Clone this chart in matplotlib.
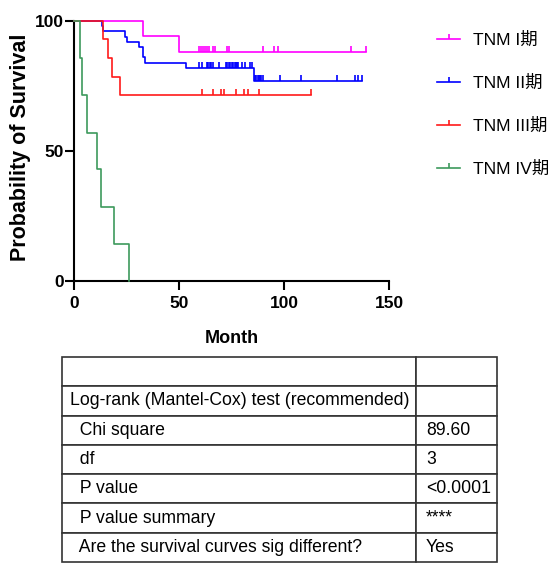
import matplotlib
matplotlib.use("Agg")
import matplotlib.pyplot as plt
import numpy as np
from matplotlib.path import Path
from matplotlib.lines import Line2D

plt.rcParams['font.family'] = ['Liberation Sans', 'Noto Sans CJK SC', 'DejaVu Sans']

# survival data: event times, survival after each event, censored times
groups = ['TNM I期', 'TNM II期', 'TNM III期', 'TNM IV期']
colors = ['#FF00FF', '#0000FF', '#FF1A1A', '#3D9A5C']

stage1_events = [33, 50]
stage1_surv = [94.1, 88.2]
stage1_censor = [59.7, 60.5, 61.6, 62.5, 63.5, 64.2, 66, 67, 72.8, 74, 90, 95, 97, 132, 139]

stage2_events = [13.2, 14, 24.3, 25, 31.1, 32.7, 33.8, 53.2, 85.5]
stage2_surv = [98, 96, 94, 92, 90, 86, 84, 82, 76.8]
stage2_censor = [59.7, 61, 63.3, 64, 64.7, 65.4, 66, 69.2, 72.4, 73, 73.7, 74.4, 75.1,
                 75.8, 76.5, 77.2, 77.8, 78.3, 79.8, 81.4, 83.8, 84.9, 86.2, 86.8, 87.4,
                 88, 88.6, 89.2, 89.8, 98, 108, 125, 134, 135, 137]

stage3_events = [13.6, 16, 18, 22]
stage3_surv = [92.9, 85.7, 78.6, 71.4]
stage3_censor = [61, 66, 69.8, 71.4, 77, 81, 83, 88, 113]

stage4_events = [3.0, 4, 6.3, 11.1, 13, 19, 26]
stage4_surv = [85.7, 71.4, 57.1, 42.9, 28.6, 14.3, 0]
stage4_censor = []

x_ticks = [0, 50, 100, 150]
y_ticks = [0, 50, 100]

table_rows = [
    ['', ''],
    ['Log-rank (Mantel-Cox) test (recommended)', ''],
    ['  Chi square', '89.60'],
    ['  df', '3'],
    ['  P value', '<0.0001'],
    ['  P value summary', '****'],
    ['  Are the survival curves sig different?', 'Yes'],
]

W, H = 554, 564
fig = plt.figure(figsize=(W / 100, H / 100), dpi=100)
ax = fig.add_axes([74 / W, 1 - 281 / H, 315 / W, 260 / H])

tick_mark = Path([[0, 0], [0, 1]])

all_events = [stage1_events, stage2_events, stage3_events, stage4_events]
all_surv = [stage1_surv, stage2_surv, stage3_surv, stage4_surv]
all_censor = [stage1_censor, stage2_censor, stage3_censor, stage4_censor]

for ev, sv, cen, c in zip(all_events, all_surv, all_censor, colors):
    end = max(ev + cen)
    xs = [0] + ev + [end]
    ys = [100] + sv + [sv[-1]]
    ax.step(xs, ys, where='post', color=c, lw=1.2, clip_on=False, zorder=3)
    if cen:
        levels = np.array([100] + sv)
        idx = np.searchsorted(np.array(ev), np.array(cen), side='right')
        ax.plot(cen, levels[idx], ls='none', marker=tick_mark, ms=8, mew=1.2,
                color=c, clip_on=False, zorder=3)

ax.set_xlim(0, 150)
ax.set_ylim(0, 100)
ax.set_xticks(x_ticks)
ax.set_yticks(y_ticks)
for s in ['top', 'right']:
    ax.spines[s].set_visible(False)
for s in ['left', 'bottom']:
    ax.spines[s].set_linewidth(1.5)
ax.tick_params(width=1.5, length=6.5, labelsize=12.5)
ax.tick_params(axis='y', pad=1)
ax.tick_params(axis='x', pad=4)
for lab in ax.get_xticklabels() + ax.get_yticklabels():
    lab.set_fontweight('bold')

ax.set_xlabel('Month', fontsize=13, fontweight='bold')
ax.xaxis.set_label_coords(0.5, -0.19)
ax.set_ylabel('Probability of Survival', fontsize=15.5, fontweight='bold')
ax.yaxis.set_label_coords(-0.137, 0.515)

handles = [Line2D([], [], color=c, lw=1.2, marker=tick_mark, ms=7, mew=1.2) for c in colors]
fig.legend(handles, groups, loc='upper left', bbox_to_anchor=(437 / W, 1 - 32 / H),
           frameon=False, fontsize=12.5, handlelength=1.35, handletextpad=0.75,
           labelspacing=1.55, borderpad=0, borderaxespad=0, numpoints=1)

# results table
tax = fig.add_axes([62 / W, 2 / H, 435 / W, 205 / H])
tax.axis('off')
tbl = tax.table(cellText=table_rows, colWidths=[354 / 435, 81 / 435],
                bbox=[0, 0, 1, 1], cellLoc='left')
tbl.auto_set_font_size(False)
for (r, c), cell in tbl.get_celld().items():
    cell.set_edgecolor('#333333')
    cell.set_linewidth(1.2)
    cell.PAD = 8 / 354 if c == 0 else 10 / 81
    cell.get_text().set_fontsize(12.7)

fig.savefig('out.png', dpi=100, facecolor='white')
